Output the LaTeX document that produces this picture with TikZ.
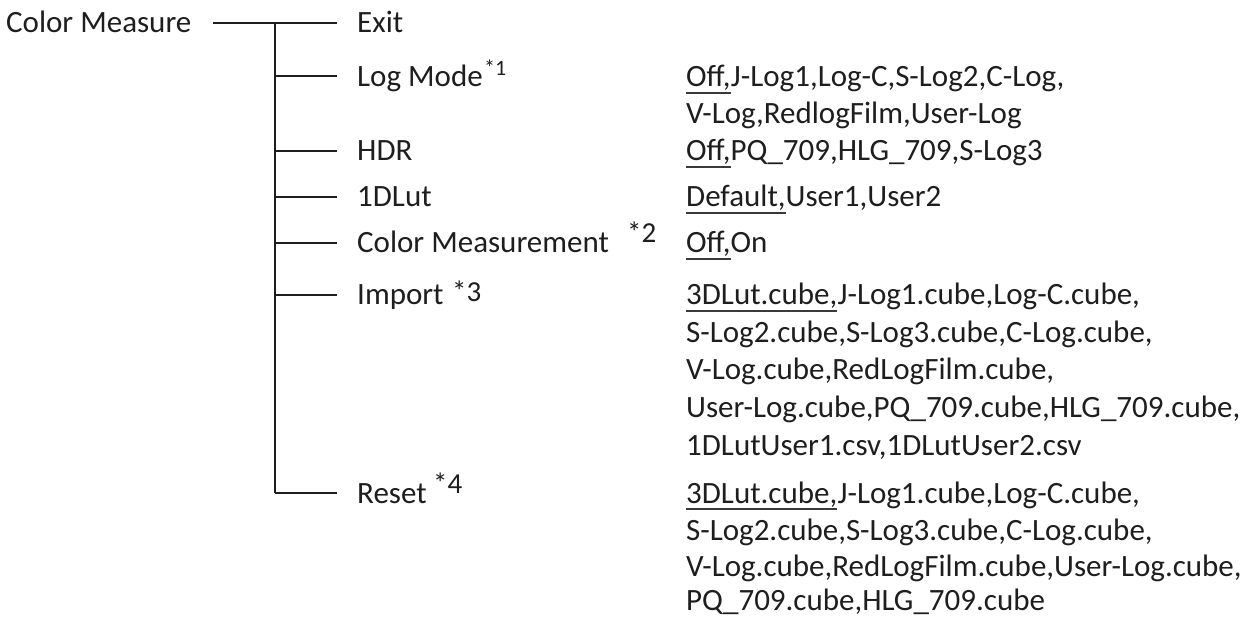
\documentclass[tikz,border=0pt]{standalone}
\usepackage{fontspec}
\setmainfont{Carlito}
\definecolor{ink}{HTML}{1E1E1E}
\definecolor{ulc}{HTML}{3A3A3A}
\newsavebox\ulxbox
\newcommand\ulx[1]{\sbox\ulxbox{#1}\rlap{\color{ulc}\rule[-7pt]{\wd\ulxbox}{2.3pt}}#1}
\tikzset{
  lab/.style={anchor=base west, inner sep=0pt, text=ink, font=\fontsize{31}{36}\selectfont},
  sup/.style={anchor=base west, inner sep=0pt, text=ink, font=\fontsize{29}{32}\selectfont},
  supsmall/.style={anchor=base west, inner sep=0pt, text=ink, font=\fontsize{22}{25}\selectfont},
  ln/.style={draw=ink, line width=2pt}
}
\begin{document}
\begin{tikzpicture}[x=1pt,y=-1pt]
\useasboundingbox (0,0) rectangle (1248,620);
% left labels
\node[lab] (root) at (6,33) {Color Measure};
\node[lab] (exit) at (357,33) {Exit};
\node[lab] (logmode) at (357,87) {Log Mode};
\node[supsmall] (s1) at (484,76) {*1};
\node[lab] (hdr) at (357,161) {HDR};
\node[lab] (lut) at (357,207) {1DLut};
\node[lab] (cm) at (357,253) {Color Measurement};
\node[sup] (s2) at (627,243) {*2};
\node[lab] (imp) at (357,305) {Import};
\node[sup] (s3) at (452,302) {*3};
\node[lab] (reset) at (357,503) {Reset};
\node[sup] (s4) at (433,493) {*4};
% tree coordinates
\coordinate (r0) at (213,23);
\coordinate (t0) at (275,23);  \coordinate (e0) at (337,23);
\coordinate (t1) at (275,76);  \coordinate (e1) at (337,76);
\coordinate (t2) at (275,151); \coordinate (e2) at (337,151);
\coordinate (t3) at (275,197); \coordinate (e3) at (337,197);
\coordinate (t4) at (275,243); \coordinate (e4) at (337,243);
\coordinate (t5) at (275,295); \coordinate (e5) at (337,295);
\coordinate (t6) at (275,493); \coordinate (e6) at (337,493);
\draw[ln] (r0) -- (e0);
\draw[ln] (t0) -- (t6);
\draw[ln] (t1) -- (e1);
\draw[ln] (t2) -- (e2);
\draw[ln] (t3) -- (e3);
\draw[ln] (t4) -- (e4);
\draw[ln] (t5) -- (e5);
\draw[ln] (t6) -- (e6);
% right column values
\node[lab] (v1) at (686,87) {\ulx{Off,}J-Log1,Log-C,S-Log2,C-Log,};
\node[lab] (v2) at (686,124) {V-Log,RedlogFilm,User-Log};
\node[lab] (v3) at (686,161) {\ulx{Off,}PQ\_709,HLG\_709,S-Log3};
\node[lab] (v4) at (686,207) {\ulx{Default,}User1,User2};
\node[lab] (v5) at (686,253) {\ulx{Off,}On};
\node[lab] (v6) at (686,305) {\ulx{3DLut.cube,}J-Log1.cube,Log-C.cube,};
\node[lab] (v7) at (686,342) {S-Log2.cube,S-Log3.cube,C-Log.cube,};
\node[lab] (v8) at (686,380) {V-Log.cube,RedLogFilm.cube,};
\node[lab] (v9) at (686,417) {User-Log.cube,PQ\_709.cube,HLG\_709.cube,};
\node[lab] (v10) at (686,455) {1DLutUser1.csv,1DLutUser2.csv};
\node[lab] (v11) at (686,503) {\ulx{3DLut.cube,}J-Log1.cube,Log-C.cube,};
\node[lab] (v12) at (686,540) {S-Log2.cube,S-Log3.cube,C-Log.cube,};
\node[lab] (v13) at (686,576) {V-Log.cube,RedLogFilm.cube,User-Log.cube,};
\node[lab] (v14) at (686,610) {PQ\_709.cube,HLG\_709.cube};
\end{tikzpicture}
\end{document}
